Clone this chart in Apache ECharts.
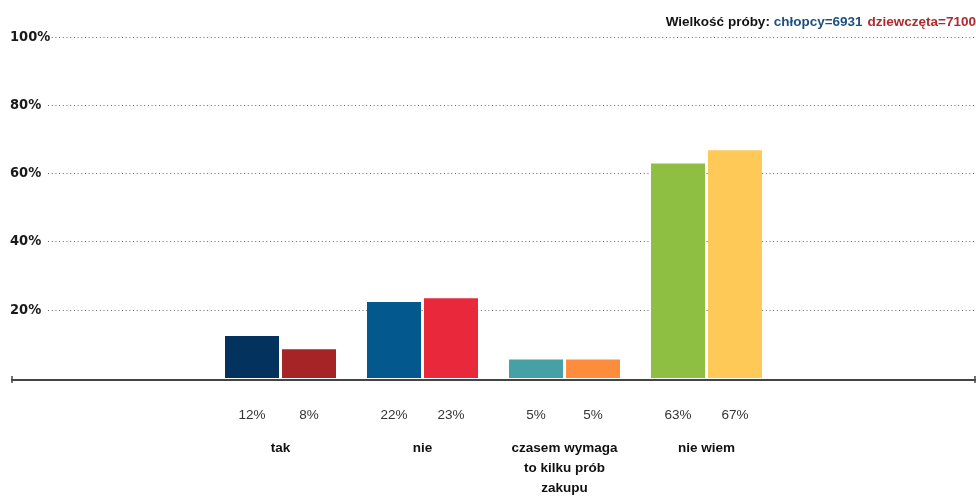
<!DOCTYPE html>
<html>
<head>
<meta charset="utf-8">
<script src="https://cdn.jsdelivr.net/npm/echarts@6/dist/echarts.min.js"></script>
<style>
  html, body { margin: 0; padding: 0; background: #fff; }
  #chart { width: 976px; height: 502px; }
</style>
</head>
<body>
<div id="chart"></div>
<script>
const categories = ['tak', 'nie', 'czasem wymaga\nto kilku prób\nzakupu', 'nie wiem']
const boys = [12.3, 22.3, 5.4, 62.9]
const girls = [8.4, 23.4, 5.4, 66.8]
const boysColors = ['#04325e', '#03598d', '#46a1a6', '#8ebf43']
const girlsColors = ['#a62426', '#e9293b', '#fd8d3c', '#fec956']
const yTicks = [0, 20, 40, 60, 80, 100]

const labelFont = "'Liberation Sans', Arial, sans-serif"
const narrowFont = "'Liberation Sans Narrow', 'DejaVu Sans Condensed', sans-serif"

const chart = echarts.init(document.getElementById('chart'))

const barLabel = {
  show: true,
  position: 'bottom',
  distance: 30,
  color: '#333',
  fontFamily: labelFont,
  fontSize: 13.5,
  formatter: p => Math.round(p.value) + '%',
}

chart.setOption({
  animation: false,
  title: {
    right: 0,
    top: 13,
    padding: 0,
    text: '{a|Wielkość próby: }{b|chłopcy=6931} {c|dziewczęta=7100}',
    textStyle: {
      rich: {
        a: { color: '#111', fontWeight: 'bold', fontSize: 13.5, fontFamily: labelFont },
        b: { color: '#1d4f80', fontWeight: 'bold', fontSize: 13.5, fontFamily: labelFont },
        c: { color: '#ad2a2d', fontWeight: 'bold', fontSize: 13.5, fontFamily: labelFont },
      },
    },
  },
  grid: [
    // y axis with dotted lines
    { left: 48, right: 0, top: 37, bottom: 124 },
    // base line with end caps
    { left: 12, right: 1, top: 37, bottom: 122.5 },
    // bars
    { left: 209.5, right: 198.5, top: 37, bottom: 124 },
  ],
  xAxis: [
    { gridIndex: 0, type: 'value', show: false, min: 0, max: 1 },
    {
      gridIndex: 1,
      type: 'value',
      min: 0,
      max: 1,
      axisLine: {
        show: true,
        symbol: ['rect', 'rect'],
        symbolSize: [7, 1.5],
        lineStyle: { color: '#444', width: 2 },
      },
      axisTick: { show: false },
      axisLabel: { show: false },
      splitLine: { show: false },
    },
    {
      gridIndex: 2,
      type: 'category',
      data: categories,
      axisLine: { show: false },
      axisTick: { show: false },
      axisLabel: {
        margin: 60,
        color: '#111',
        fontWeight: 'bold',
        fontSize: 13.5,
        lineHeight: 20,
        fontFamily: labelFont,
      },
    },
  ],
  yAxis: [
    {
      gridIndex: 0,
      type: 'value',
      min: 0,
      max: 100,
      interval: 20,
      axisLine: { show: false },
      axisTick: { show: false },
      axisLabel: {
        align: 'left',
        margin: 38,
        color: '#1a1a1a',
        fontWeight: 'bold',
        fontSize: 14.5,
        fontFamily: narrowFont,
        formatter: v => (v === yTicks[0] ? '' : v + '%'),
      },
      splitLine: {
        show: true,
        showMinLine: false,
        lineStyle: { color: '#666', width: 1, type: [1, 2.7] },
      },
    },
    { gridIndex: 1, type: 'value', show: false, min: 0, max: 100 },
    { gridIndex: 2, type: 'value', show: false, min: 0, max: 100 },
  ],
  series: [
    {
      name: 'chłopcy',
      type: 'bar',
      xAxisIndex: 2,
      yAxisIndex: 2,
      barWidth: 54,
      barGap: '5.56%',
      data: boys.map((v, i) => ({ value: v, itemStyle: { color: boysColors[i] } })),
      label: barLabel,
    },
    {
      name: 'dziewczęta',
      type: 'bar',
      xAxisIndex: 2,
      yAxisIndex: 2,
      barWidth: 54,
      barGap: '5.56%',
      data: girls.map((v, i) => ({ value: v, itemStyle: { color: girlsColors[i] } })),
      label: barLabel,
    },
  ],
})
</script>
</body>
</html>
